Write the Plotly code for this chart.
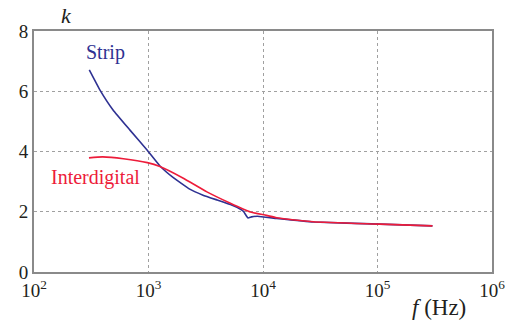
import plotly.graph_objects as go

strip_f = [304, 377, 490, 689, 971, 1259, 1637, 2291, 2992, 3981, 5200, 6310, 6761, 7161, 7413, 7943, 8913, 13183, 27542, 104713, 302000]
strip_k = [6.71, 6.04, 5.38, 4.71, 4.05, 3.52, 3.14, 2.75, 2.55, 2.39, 2.24, 2.09, 2.01, 1.86, 1.79, 1.83, 1.85, 1.78, 1.66, 1.59, 1.53]

inter_f = [302, 398, 603, 977, 1259, 1995, 3236, 5129, 7762, 10715, 13183, 27542, 104713, 302000]
inter_k = [3.79, 3.82, 3.76, 3.63, 3.50, 3.12, 2.66, 2.29, 1.99, 1.88, 1.80, 1.67, 1.59, 1.53]

x_ticks = [100, 1000, 10000, 100000, 1000000]
x_ticktext = ["10<sup>2</sup>", "10<sup>3</sup>", "10<sup>4</sup>", "10<sup>5</sup>", "10<sup>6</sup>"]
y_ticks = [0, 2, 4, 6, 8]

BLUE = "#2e3192"
RED = "#ed1c3a"
GREY = "#8a8a8a"
FONT = '"Liberation Serif", "Times New Roman", Times, serif'

fig = go.Figure()
fig.add_trace(go.Scatter(x=strip_f, y=strip_k, mode="lines",
                         line=dict(color=BLUE, width=1.6, shape="spline", smoothing=0.3),
                         showlegend=False, hoverinfo="skip"))
fig.add_trace(go.Scatter(x=inter_f, y=inter_k, mode="lines",
                         line=dict(color=RED, width=1.6, shape="spline", smoothing=0.5),
                         showlegend=False, hoverinfo="skip"))

W, H = 516, 322
l, r, t, b = 34, 24, 31, 50
pw, ph = W - l - r, H - t - b

def px(x, y):
    return dict(xref="paper", yref="paper", x=(x - l) / pw, y=1 - (y - t) / ph,
                xanchor="center", yanchor="middle", showarrow=False)

fig.update_layout(
    width=W, height=H,
    margin=dict(l=l, r=r, t=t, b=b, autoexpand=False),
    paper_bgcolor="white", plot_bgcolor="white",
    font=dict(family=FONT, size=18, color="#231f20"),
    xaxis=dict(type="log", range=[2, 6], tickvals=x_ticks, ticktext=x_ticktext,
               showgrid=True, gridcolor="#a0a0a0", griddash="dot", gridwidth=1,
               showline=True, linecolor=GREY, linewidth=2, mirror=True,
               ticks="", zeroline=False, tickfont=dict(size=19), automargin=False),
    yaxis=dict(range=[0, 8], tickvals=y_ticks,
               showgrid=True, gridcolor="#a0a0a0", griddash="dot", gridwidth=1,
               showline=True, linecolor=GREY, linewidth=2, mirror=True,
               ticks="", zeroline=False, tickfont=dict(size=19), automargin=False),
    annotations=[
        dict(text="<i>k</i>", font=dict(size=22), **px(66, 15)),
        dict(text="<i>f</i> (Hz)", font=dict(size=23), **px(439, 307)),
        dict(text="Strip", font=dict(size=20, color=BLUE), **px(105, 52)),
        dict(text="Interdigital", font=dict(size=20, color=RED), **px(95, 177)),
    ],
)
fig.write_html("out.html", config={"displayModeBar": False},
               post_script="document.body.style.margin='0';document.body.style.padding='0';")
